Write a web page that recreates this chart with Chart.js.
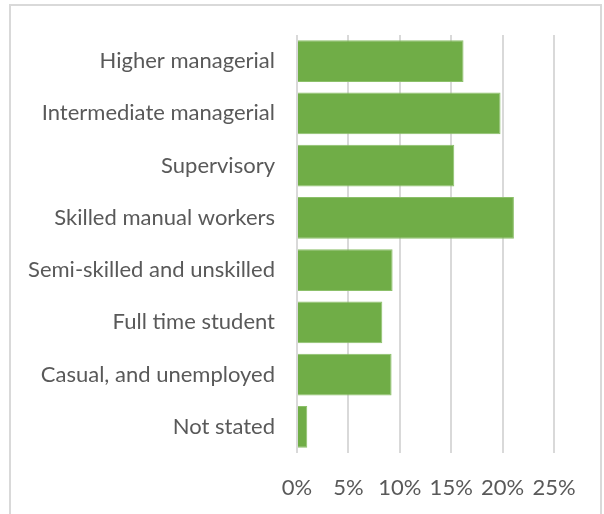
<!DOCTYPE html>
<html lang="en">
<head>
    <meta charset="UTF-8">
    <title>Occupation groups</title>
    <style>
        body {
            margin: 0;
            padding: 0;
            background-color: white;
        }
        .frame {
            position: absolute;
            left: 9px;
            top: 4px;
            width: 589px;
            height: 520px;
            border: 2px solid #d9d9d9;
            pointer-events: none;
        }
        canvas {
            position: absolute;
            left: 0;
            top: 0;
        }
    </style>
</head>
<body>
    <canvas id="chart" width="604" height="514"></canvas>
    <div class="frame"></div>

    <script src="https://cdn.jsdelivr.net/npm/chart.js"></script>
    <script>
        const categories = [
            'Higher managerial',
            'Intermediate managerial',
            'Supervisory',
            'Skilled manual workers',
            'Semi-skilled and unskilled',
            'Full time student',
            'Casual, and unemployed',
            'Not stated'
        ];
        const shares = [16.2, 19.8, 15.3, 21.1, 9.3, 8.3, 9.2, 1.0];
        const tickValues = [0, 5, 10, 15, 20, 25];

        const labelFont = { family: 'Lato', size: 22 };
        const textColor = '#595959';

        new Chart(document.getElementById('chart'), {
            type: 'bar',
            data: {
                labels: categories,
                datasets: [{
                    data: shares,
                    backgroundColor: '#70ad47',
                    borderColor: '#8cc06a',
                    borderWidth: 1,
                    categoryPercentage: 1,
                    barPercentage: 0.8
                }]
            },
            options: {
                indexAxis: 'y',
                responsive: false,
                animation: false,
                layout: { padding: { top: 35, right: 50, left: 0, bottom: 0 } },
                plugins: {
                    legend: { display: false },
                    tooltip: { enabled: false }
                },
                scales: {
                    x: {
                        min: 0,
                        max: 25,
                        afterBuildTicks: s => { s.ticks = tickValues.map(v => ({ value: v })); },
                        afterFit: s => { s.height = 61; },
                        grid: { color: '#d9d9d9', lineWidth: 2, drawTicks: false },
                        border: { display: false },
                        ticks: {
                            color: textColor,
                            font: labelFont,
                            padding: 22,
                            callback: v => v + '%'
                        }
                    },
                    y: {
                        afterFit: s => { s.width = 297; },
                        grid: { display: false },
                        border: { display: false },
                        ticks: {
                            color: textColor,
                            font: labelFont,
                            padding: 14
                        }
                    }
                }
            }
        });
    </script>
</body>
</html>
